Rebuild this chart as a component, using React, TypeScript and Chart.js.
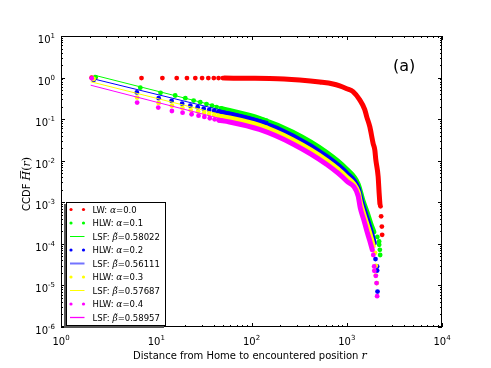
import React, { useEffect, useRef } from "react";
import { Chart, registerables } from "chart.js";

Chart.register(...registerables);

// ---------- data (distance r, CCDF H) ----------
const lwDots: [number, number][] = [
  [2.1, 1.0], [2.3, 1.0], [7.0, 0.97], [11.6, 0.97], [16.4, 0.97], [21, 0.97], [25.7, 0.97],
  [30.3, 0.97], [35.2, 0.97], [40.2, 0.97], [45.1, 0.97], [50, 0.97],
  [2263, 8e-4], [2296, 4.6e-4], [2336, 2.6e-4], [2353, 1.65e-4],
];
const lwBand: [number, number][] = [
  [52, 0.97], [100, 0.965], [155, 0.955], [220, 0.93], [320, 0.875], [520, 0.78], [718, 0.7],
  [844, 0.63], [1000, 0.54], [1164, 0.46], [1370, 0.29], [1546, 0.17], [1619, 0.115],
  [1746, 0.066], [1892, 0.026], [1972, 0.018], [2019, 0.0105], [2135, 0.0042], [2188, 0.00166],
  [2230, 0.0009],
];

const hlw1Dots: [number, number][] = [
  [2.3, 1.02], [6.8, 0.57], [11.1, 0.43], [15.8, 0.37], [20.2, 0.32], [24.7, 0.28], [29, 0.255],
  [33.7, 0.23], [38.5, 0.21], [43, 0.195], [48, 0.18],
  [2095, 1.47e-4], [2188, 1.14e-4], [2190, 9.5e-5], [2225, 7.2e-5], [2243, 5.4e-5],
];
const hlw1Band: [number, number][] = [
  [48, 0.18], [58.7, 0.162], [121, 0.105], [272, 0.0484], [611, 0.016], [993, 0.00635],
  [1315, 0.00277], [1473, 0.00114], [1643, 5.56e-4], [1790, 3.03e-4], [1925, 1.94e-4],
];

const hlw2Dots: [number, number][] = [
  [2.2, 0.88], [6.25, 0.44], [10.6, 0.32], [14.5, 0.274], [18.7, 0.236], [22.8, 0.21],
  [27.2, 0.193], [31.5, 0.179], [36, 0.167], [40.5, 0.157], [45, 0.148],
  [2004, 4.3e-5], [2083, 2.85e-5], [2084, 2.28e-5], [2104, 7.1e-6],
];
const hlw2Band: [number, number][] = [
  [45, 0.148], [58.7, 0.133], [121, 0.0866], [272, 0.0395], [611, 0.0128], [993, 0.0051],
  [1315, 0.00222], [1419, 0.00114], [1565, 5.56e-4], [1702, 3.03e-4], [1833, 1.74e-4],
  [1946, 1.06e-4],
];

const hlw3Dots: [number, number][] = [
  [2.2, 0.93], [6.3, 0.33], [10.6, 0.245], [14.6, 0.21], [18.8, 0.185], [23, 0.165],
  [27.5, 0.152], [31.8, 0.142], [36, 0.133], [40.5, 0.125], [45, 0.118],
  [1981, 6.1e-5], [2019, 2.96e-5], [2020, 1.73e-5], [2068, 1.14e-5],
];
const hlw3Band: [number, number][] = [
  [45, 0.118], [58.7, 0.107], [121, 0.0706], [272, 0.0316], [611, 0.0103], [993, 0.00408],
  [1315, 0.00178], [1403, 9.2e-4], [1528, 4.7e-4], [1663, 2.56e-4], [1790, 1.47e-4],
  [1900, 8.9e-5],
];

const hlw4Dots: [number, number][] = [
  [2.1, 0.96], [6.3, 0.25], [10.5, 0.19], [14.6, 0.157], [18.9, 0.143], [23.5, 0.131],
  [27.8, 0.121], [32, 0.113], [36.5, 0.105], [41, 0.099], [45.5, 0.094],
  [1900, 5.4e-5], [1938, 2.85e-5], [1947, 2.24e-5], [2019, 1.7e-5], [2055, 1.14e-5],
  [2084, 5.5e-6],
];
const hlw4Band: [number, number][] = [
  [45.5, 0.094], [58.7, 0.0857], [121, 0.0565], [272, 0.0253], [611, 0.00824], [993, 0.00327],
  [1315, 0.00143], [1387, 7.3e-4], [1510, 3.78e-4], [1624, 2.05e-4], [1746, 1.18e-4],
  [1855, 7.2e-5],
];

// least-squares fit lines (end points)
const lsf1: [number, number][] = [[2.25, 1.137], [150, 0.0994]];
const lsf2: [number, number][] = [[2.05, 0.966], [150, 0.0869]];
const lsf3: [number, number][] = [[2.05, 0.794], [150, 0.0668]];
const lsf4: [number, number][] = [[2.05, 0.655], [150, 0.0521]];

const alphas = ["0.0", "0.1", "0.2", "0.3", "0.4"];
const betas = ["0.58022", "0.56111", "0.57687", "0.58957"];

const xTickExps = [0, 1, 2, 3, 4];
const yTickExps = [-6, -5, -4, -3, -2, -1, 0, 1];

const RED = "#ff0000";
const GREEN = "#00ff00";
const BLUE = "#0000ff";
const YELLOW = "#ffff00";
const MAGENTA = "#ff00ff";

const SANS = '"DejaVu Sans", sans-serif';
const MATH = '"DejaVu Serif", serif';

const toPts = (a: [number, number][]) => a.map(([x, y]) => ({ x, y }));

function dotsDs(data: [number, number][], color: string, order: number) {
  return {
    data: toPts(data),
    showLine: false,
    pointRadius: 2.4,
    pointHoverRadius: 0,
    pointBorderWidth: 0,
    pointBackgroundColor: color,
    backgroundColor: color,
    borderColor: color,
    order,
  };
}
function bandDs(data: [number, number][], color: string, order: number) {
  return {
    data: toPts(data),
    showLine: true,
    pointRadius: 0,
    borderWidth: 5,
    borderColor: color,
    borderCapStyle: "round",
    borderJoinStyle: "round",
    cubicInterpolationMode: "monotone",
    order,
  };
}
function lineDs(data: [number, number][], color: string, order: number) {
  return {
    data: toPts(data),
    showLine: true,
    pointRadius: 0,
    borderWidth: 1,
    borderColor: color,
    order,
  };
}

type Run = { t: string; f: string };
function runsWidth(ctx: CanvasRenderingContext2D, runs: Run[]) {
  let w = 0;
  for (const r of runs) {
    ctx.font = r.f;
    w += ctx.measureText(r.t).width;
  }
  return w;
}
function drawRuns(ctx: CanvasRenderingContext2D, runs: Run[], x: number, y: number) {
  let cx = x;
  for (const r of runs) {
    ctx.font = r.f;
    ctx.fillText(r.t, cx, y);
    cx += ctx.measureText(r.t).width;
  }
  return cx;
}

const decorPlugin = {
  id: "decor",
  afterDatasetsDraw(chart: any) {
    const ctx: CanvasRenderingContext2D = chart.ctx;
    const { left, right, top, bottom } = chart.chartArea;
    const xs = chart.scales.x;
    const ys = chart.scales.y;
    ctx.save();
    ctx.textBaseline = "alphabetic";
    ctx.fillStyle = "#000";
    ctx.strokeStyle = "#000";
    ctx.lineWidth = 1;

    // frame
    ctx.strokeRect(left + 0.5, top + 0.5, right - left - 1, bottom - top - 1);

    // ticks
    ctx.beginPath();
    for (const e of xTickExps) {
      const base = Math.pow(10, e);
      const px = Math.round(xs.getPixelForValue(base)) + 0.5;
      ctx.moveTo(px, bottom); ctx.lineTo(px, bottom - 4);
      ctx.moveTo(px, top); ctx.lineTo(px, top + 4);
      if (e < 4) {
        for (let m = 2; m <= 9; m++) {
          const p = Math.round(xs.getPixelForValue(base * m)) + 0.5;
          ctx.moveTo(p, bottom); ctx.lineTo(p, bottom - 2);
          ctx.moveTo(p, top); ctx.lineTo(p, top + 2);
        }
      }
    }
    for (const e of yTickExps) {
      const base = Math.pow(10, e);
      const py = Math.round(ys.getPixelForValue(base)) + 0.5;
      ctx.moveTo(left, py); ctx.lineTo(left + 4, py);
      ctx.moveTo(right, py); ctx.lineTo(right - 4, py);
      if (e < 1) {
        for (let m = 2; m <= 9; m++) {
          const p = Math.round(ys.getPixelForValue(base * m)) + 0.5;
          ctx.moveTo(left, p); ctx.lineTo(left + 2, p);
          ctx.moveTo(right, p); ctx.lineTo(right - 2, p);
        }
      }
    }
    ctx.stroke();

    // tick labels
    const big = `10px ${SANS}`;
    const small = `7px ${SANS}`;
    for (const e of xTickExps) {
      const px = xs.getPixelForValue(Math.pow(10, e));
      ctx.font = big;
      const w1 = ctx.measureText("10").width;
      ctx.font = small;
      const w2 = ctx.measureText(String(e)).width;
      const x0 = px - (w1 + w2) / 2;
      ctx.font = big;
      ctx.fillText("10", x0, bottom + 18);
      ctx.font = small;
      ctx.fillText(String(e), x0 + w1, bottom + 13);
    }
    for (const e of yTickExps) {
      const py = ys.getPixelForValue(Math.pow(10, e));
      const exp = e < 0 ? "-" + Math.abs(e) : String(e);
      ctx.font = big;
      const w1 = ctx.measureText("10").width;
      ctx.font = small;
      const w2 = ctx.measureText(exp).width;
      const x1 = left - 6;
      ctx.font = big;
      ctx.fillText("10", x1 - w2 - w1, py + 7);
      ctx.font = small;
      ctx.fillText(exp, x1 - w2, py + 2);
    }

    // x title
    const xRuns: Run[] = [
      { t: "Distance from Home to encountered position ", f: `10px ${SANS}` },
      { t: "r", f: `italic 11px ${MATH}` },
    ];
    const xw = runsWidth(ctx, xRuns);
    drawRuns(ctx, xRuns, 250 - xw / 2, 359);

    // y title (rotated)
    ctx.save();
    ctx.translate(30, 184);
    ctx.rotate(-Math.PI / 2);
    const yRuns: Run[] = [
      { t: "CCDF ", f: `10px ${SANS}` },
      { t: "H", f: `italic 11px ${MATH}` },
      { t: "(", f: `11px ${MATH}` },
      { t: "r", f: `italic 11px ${MATH}` },
      { t: ")", f: `11px ${MATH}` },
    ];
    const yw = runsWidth(ctx, yRuns);
    const sx = -yw / 2;
    ctx.font = `10px ${SANS}`;
    const wC = ctx.measureText("CCDF ").width;
    ctx.font = `italic 11px ${MATH}`;
    const wH = ctx.measureText("H").width;
    drawRuns(ctx, yRuns, sx, 0);
    ctx.beginPath();
    ctx.moveTo(sx + wC + 2, -9.5);
    ctx.lineTo(sx + wC + wH, -9.5);
    ctx.lineWidth = 0.8;
    ctx.stroke();
    ctx.restore();

    // (a)
    ctx.font = `16px ${SANS}`;
    ctx.fillText("(a)", 393, 71);

    // legend
    const lx0 = 66, ly0 = 202, lx1 = 166, ly1 = 326;
    ctx.fillStyle = "#555";
    ctx.fillRect(lx0 - 2, ly0 + 2, lx1 - lx0, ly1 - ly0);
    ctx.fillStyle = "#fff";
    ctx.fillRect(lx0, ly0, lx1 - lx0, ly1 - ly0);
    ctx.strokeStyle = "#000";
    ctx.lineWidth = 1;
    ctx.strokeRect(lx0 + 0.5, ly0 + 0.5, lx1 - lx0 - 1, ly1 - ly0 - 1);

    type Row = { kind: "dot" | "line"; color: string; width?: number; label: Run[] };
    const lf = `8.5px ${SANS}`;
    const mf = `italic 9px ${MATH}`;
    const alphaRow = (name: string, a: string): Run[] => [
      { t: name + ": ", f: lf },
      { t: "α", f: mf },
      { t: "=" + a, f: lf },
    ];
    const betaRow = (b: string): Run[] => [
      { t: "LSF: ", f: lf },
      { t: "β̃", f: mf },
      { t: "=" + b, f: lf },
    ];
    const rows: Row[] = [
      { kind: "dot", color: RED, label: alphaRow("LW", alphas[0]) },
      { kind: "dot", color: GREEN, label: alphaRow("HLW", alphas[1]) },
      { kind: "line", color: GREEN, width: 1, label: betaRow(betas[0]) },
      { kind: "dot", color: BLUE, label: alphaRow("HLW", alphas[2]) },
      { kind: "line", color: "rgba(90,90,255,0.85)", width: 2, label: betaRow(betas[1]) },
      { kind: "dot", color: YELLOW, label: alphaRow("HLW", alphas[3]) },
      { kind: "line", color: YELLOW, width: 1, label: betaRow(betas[2]) },
      { kind: "dot", color: MAGENTA, label: alphaRow("HLW", alphas[4]) },
      { kind: "line", color: MAGENTA, width: 1.3, label: betaRow(betas[3]) },
    ];
    rows.forEach((row, i) => {
      const cy = 209.5 + i * 13.5;
      if (row.kind === "dot") {
        ctx.fillStyle = row.color;
        for (const dx of [71, 83.5]) {
          ctx.beginPath();
          ctx.arc(dx, cy, 1.6, 0, Math.PI * 2);
          ctx.fill();
        }
      } else {
        ctx.strokeStyle = row.color;
        ctx.lineWidth = row.width || 1;
        ctx.beginPath();
        ctx.moveTo(70, cy);
        ctx.lineTo(84.5, cy);
        ctx.stroke();
      }
      ctx.fillStyle = "#000";
      drawRuns(ctx, row.label, 92.5, cy + 3);
    });

    ctx.restore();
  },
};

export default function App() {
  const ref = useRef<HTMLCanvasElement | null>(null);
  useEffect(() => {
    if (!ref.current) return;
    const chart = new Chart(ref.current, {
      type: "scatter",
      data: {
        datasets: [
          dotsDs(lwDots, RED, 30),
          bandDs(lwBand, RED, 29),
          dotsDs(hlw1Dots, GREEN, 28),
          bandDs(hlw1Band, GREEN, 27),
          lineDs(lsf1, GREEN, 26),
          dotsDs(hlw2Dots, BLUE, 25),
          bandDs(hlw2Band, BLUE, 24),
          lineDs(lsf2, BLUE, 23),
          dotsDs(hlw3Dots, YELLOW, 22),
          bandDs(hlw3Band, YELLOW, 21),
          lineDs(lsf3, YELLOW, 20),
          dotsDs(hlw4Dots, MAGENTA, 19),
          bandDs(hlw4Band, MAGENTA, 18),
          lineDs(lsf4, MAGENTA, 17),
        ] as any,
      },
      options: {
        responsive: false,
        animation: false,
        devicePixelRatio: 1,
        events: [],
        layout: { padding: { left: 61, right: 49, top: 36, bottom: 41 } },
        scales: {
          x: { type: "logarithmic", min: 1, max: 10000, display: false },
          y: { type: "logarithmic", min: 1e-6, max: 10, display: false },
        },
        plugins: { legend: { display: false }, tooltip: { enabled: false } },
      },
      plugins: [decorPlugin],
    });
    return () => chart.destroy();
  }, []);
  return (
    <div style={{ position: "absolute", left: 0, top: 0, width: 491, height: 368, background: "#fff" }}>
      <canvas ref={ref} width={491} height={368} style={{ display: "block" }} />
    </div>
  );
}
